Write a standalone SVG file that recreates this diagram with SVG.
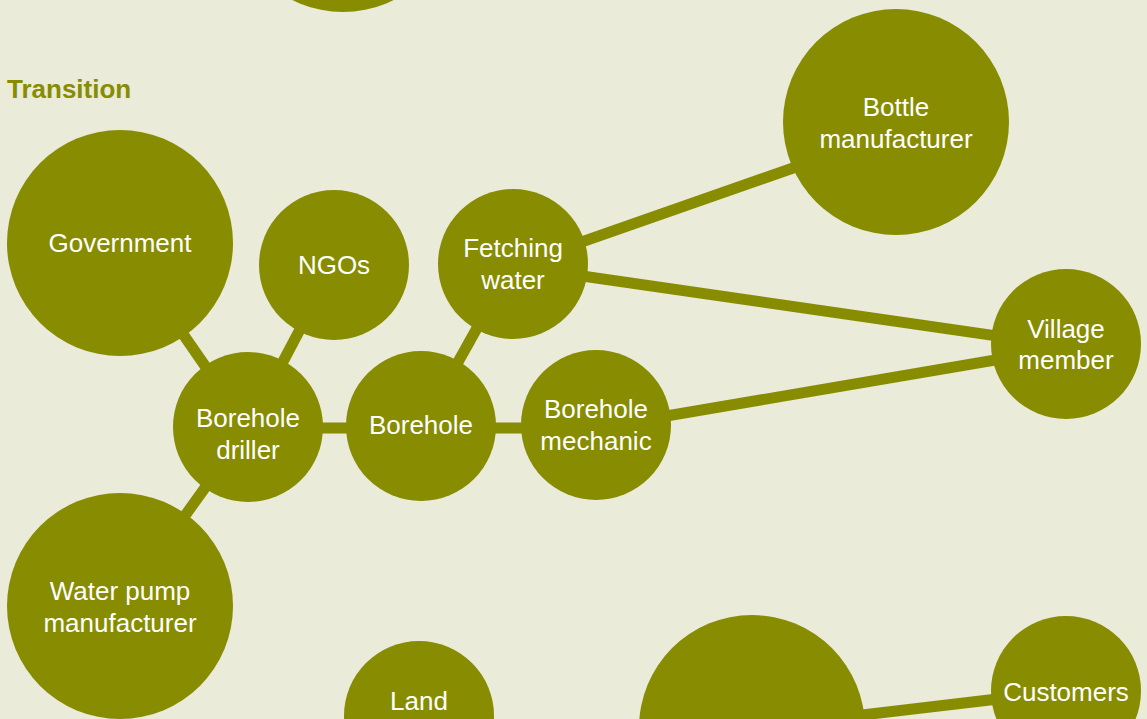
<svg xmlns="http://www.w3.org/2000/svg" width="1147" height="719" viewBox="0 0 1147 719">
<style>
.bg{fill:#EAEBD8}
.n{fill:#878C00}
.e{stroke:#878C00;stroke-width:11;fill:none}
.t{fill:#FFFFFF;font-family:"Liberation Sans",Arial,Helvetica,sans-serif;font-size:26px;text-anchor:middle}
.h{fill:#878C00;font-family:"Liberation Sans",Arial,Helvetica,sans-serif;font-size:26px;font-weight:bold}
</style>
<rect class="bg" x="0" y="0" width="1147" height="719"/>
<text class="h" x="7" y="98">Transition</text>
<g id="connectors">
<line class="e" x1="120" y1="243" x2="248" y2="428"/>
<line class="e" x1="334" y1="265" x2="248" y2="428"/>
<line class="e" x1="248" y1="428" x2="421" y2="428"/>
<line class="e" x1="421" y1="428" x2="513" y2="264"/>
<line class="e" x1="421" y1="428" x2="596" y2="428"/>
<line class="e" x1="513" y1="266" x2="896" y2="132"/>
<line class="e" x1="513" y1="266" x2="1066" y2="346"/>
<line class="e" x1="596" y1="428" x2="1066" y2="348"/>
<line class="e" x1="120" y1="606" x2="248" y2="428"/>
<line class="e" x1="752" y1="728" x2="1066" y2="691"/>
</g>
<g id="top-node"><circle class="n" cx="343" cy="-101" r="113"/></g>
<g id="government"><circle class="n" cx="120" cy="243" r="113"/><text class="t" x="120" y="252">Government</text></g>
<g id="ngos"><circle class="n" cx="334" cy="265" r="75"/><text class="t" x="334" y="274">NGOs</text></g>
<g id="fetching-water"><circle class="n" cx="513" cy="264" r="75"/><text class="t" x="513" y="257">Fetching</text><text class="t" x="513" y="289">water</text></g>
<g id="bottle-manufacturer"><circle class="n" cx="896" cy="122" r="113"/><text class="t" x="896" y="116">Bottle</text><text class="t" x="896" y="148">manufacturer</text></g>
<g id="village-member"><circle class="n" cx="1066" cy="344" r="75"/><text class="t" x="1066" y="338">Village</text><text class="t" x="1066" y="369">member</text></g>
<g id="borehole-driller"><circle class="n" cx="248" cy="427" r="75"/><text class="t" x="248" y="427">Borehole</text><text class="t" x="248" y="459">driller</text></g>
<g id="borehole"><circle class="n" cx="421" cy="426" r="75"/><text class="t" x="421" y="434">Borehole</text></g>
<g id="borehole-mechanic"><circle class="n" cx="596" cy="425" r="75"/><text class="t" x="596" y="418">Borehole</text><text class="t" x="596" y="450">mechanic</text></g>
<g id="water-pump-manufacturer"><circle class="n" cx="120" cy="606" r="113"/><text class="t" x="120" y="600">Water pump</text><text class="t" x="120" y="632">manufacturer</text></g>
<g id="land"><circle class="n" cx="419" cy="716" r="75"/><text class="t" x="419" y="710">Land</text></g>
<g id="bottom-node"><circle class="n" cx="752" cy="728" r="113"/></g>
<g id="customers"><circle class="n" cx="1066" cy="691" r="75"/><text class="t" x="1066" y="701">Customers</text></g>
</svg>
